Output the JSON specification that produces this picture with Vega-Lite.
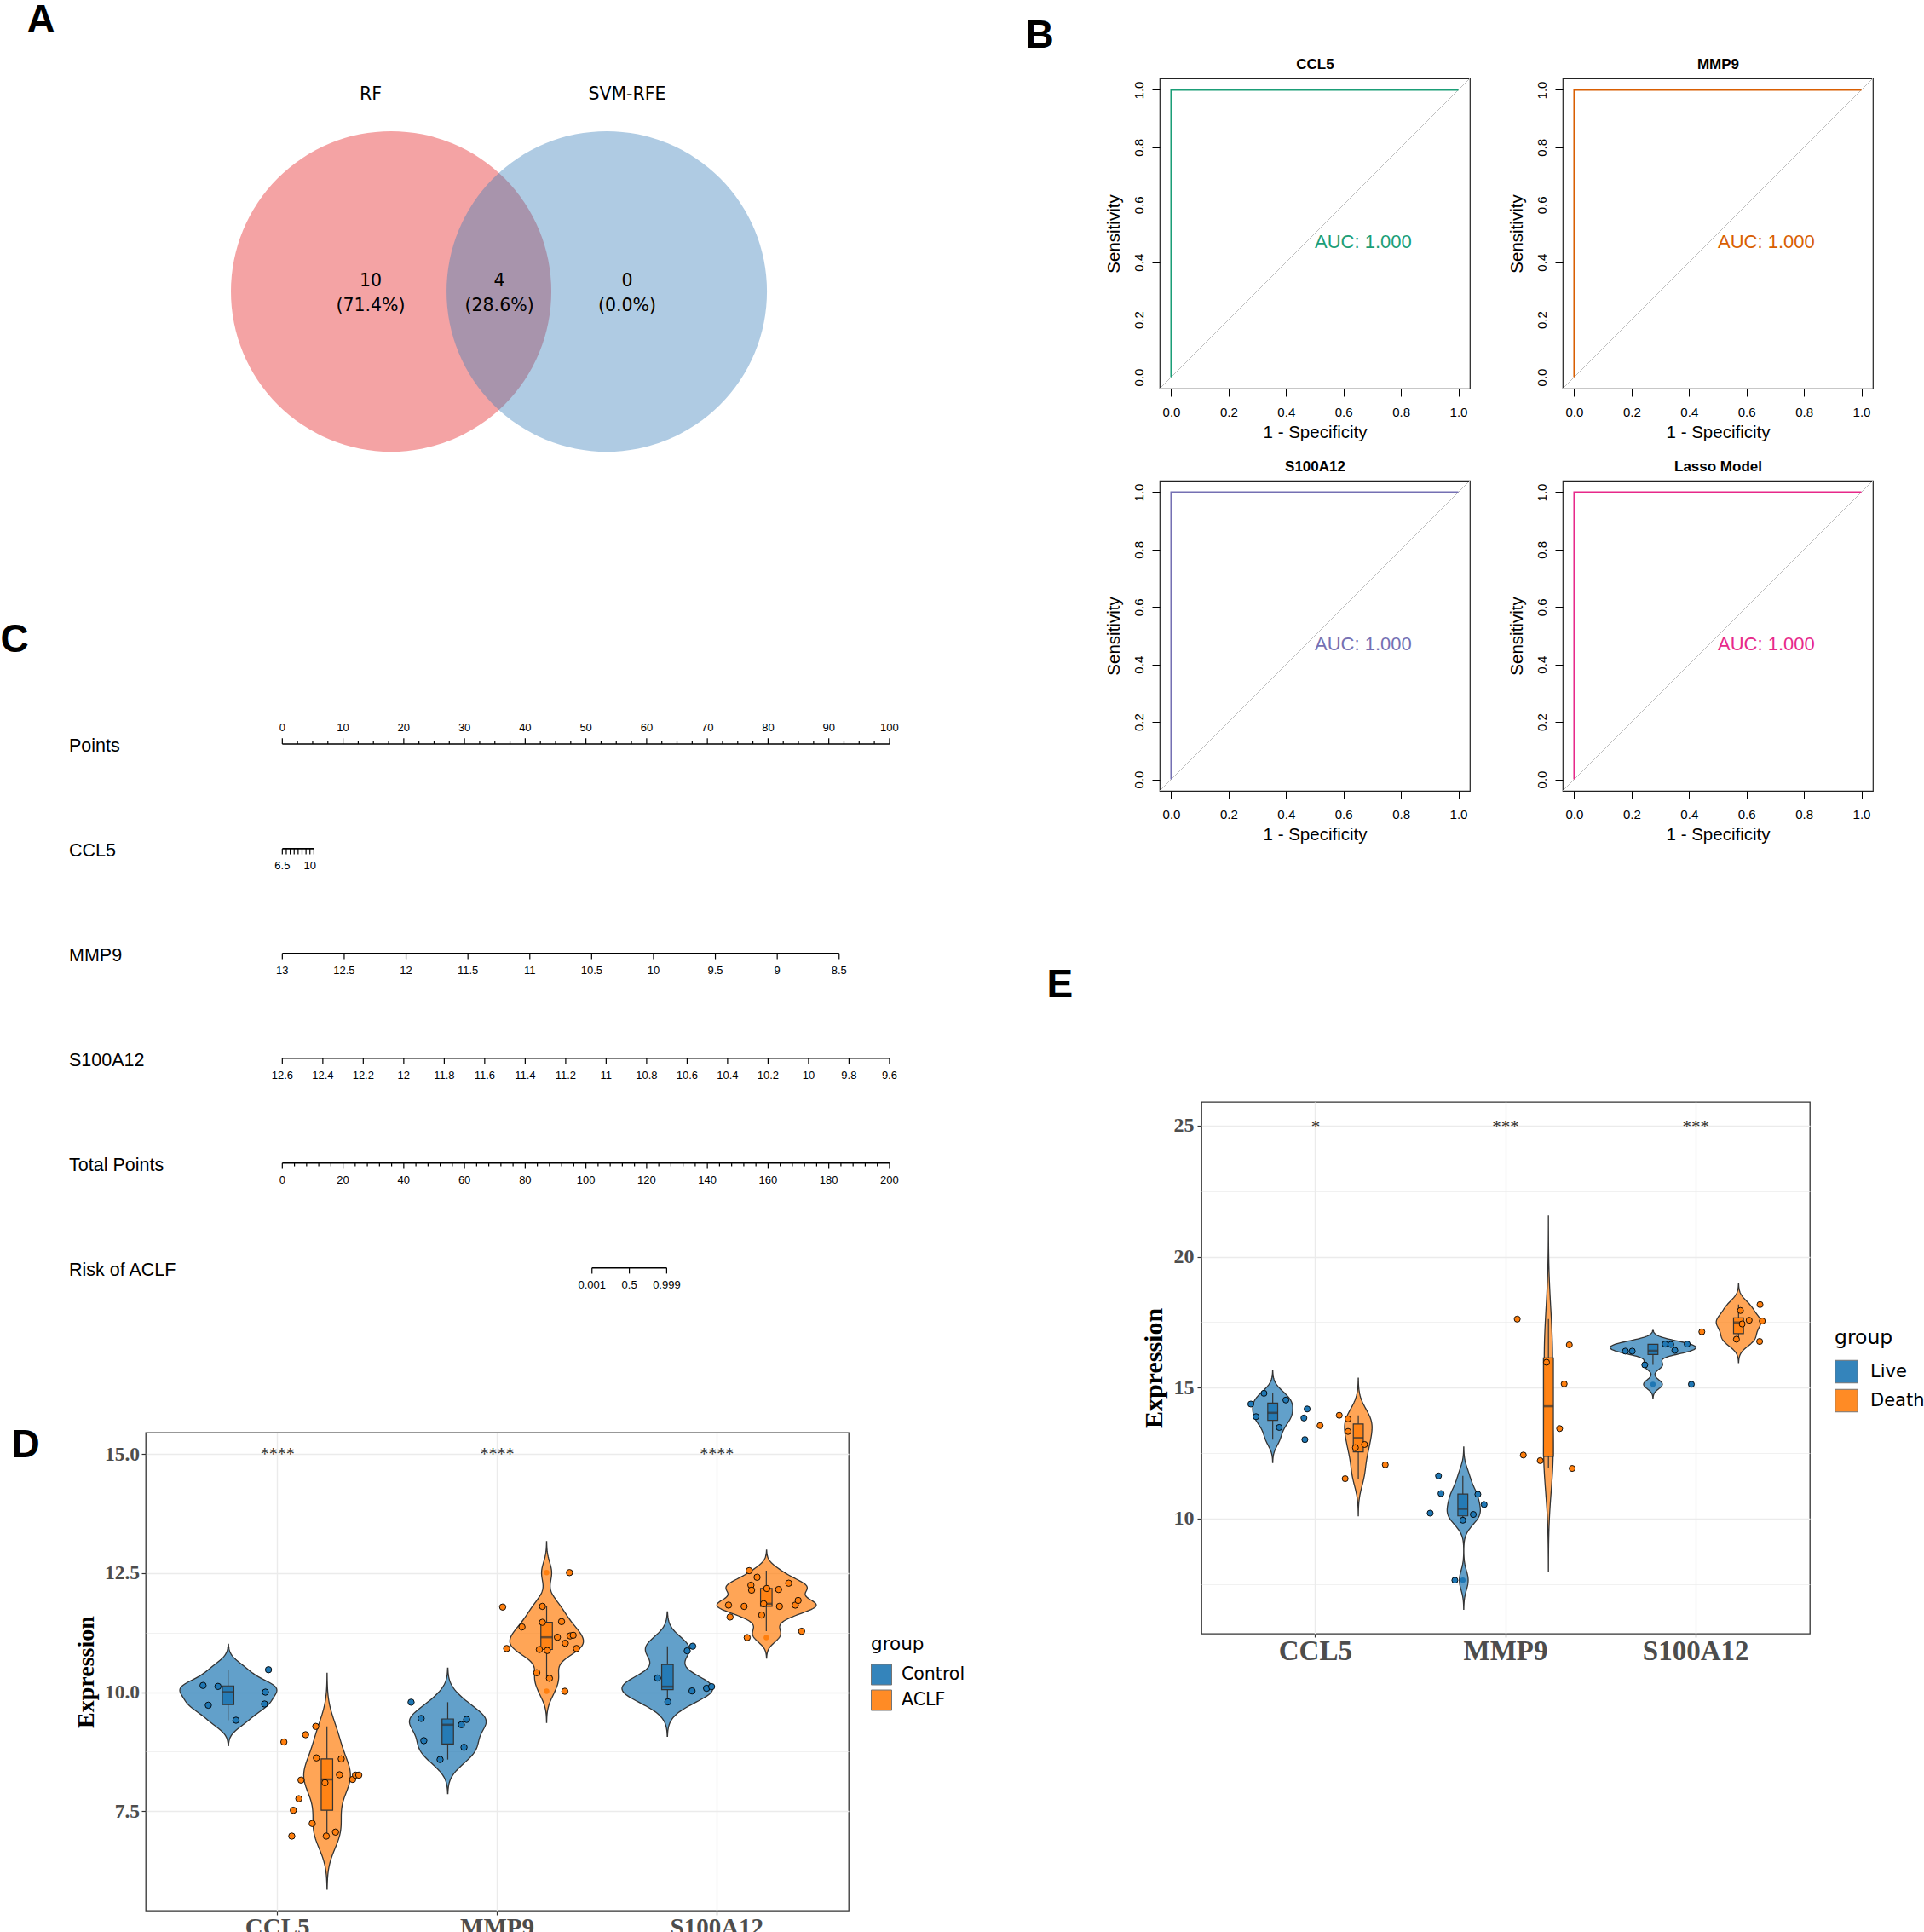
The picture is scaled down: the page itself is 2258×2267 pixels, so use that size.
{
"$schema": "https://vega.github.io/schema/vega-lite/v6.json",
"background": "white",
"padding": 0,
"autosize": {"type": "pad"},
"columns": 3,
"align": "each",
"bounds": "flush",
"spacing": {"row": 10, "column": 109},
"resolve": {"scale": {"color": "independent"}, "legend": {"color": "independent"}},
"config": {"view": {"stroke": null}, "font": "Liberation Sans", "axis": {"labelColor": "#000000", "titleColor": "#000000"}},
"datasets": {
"venn_sets": [
{"set": "RF", "cx": 0, "cy": 0, "lx": -0.128, "ly": 1.198},
{"set": "SVM-RFE", "cx": 1.346, "cy": 0, "lx": 1.473, "ly": 1.198}
],
"venn_regions": [
{"region": "RF only", "x": -0.128, "y": 0, "count": "10", "pct": "(71.4%)"},
{"region": "RF and SVM-RFE", "x": 0.676, "y": 0, "count": "4", "pct": "(28.6%)"},
{"region": "SVM-RFE only", "x": 1.473, "y": 0, "count": "0", "pct": "(0.0%)"}
],
"roc": [
{"model": "CCL5", "fpr": 0, "tpr": 0, "step": 1}, {"model": "CCL5", "fpr": 0, "tpr": 1, "step": 2}, {"model": "CCL5", "fpr": 1, "tpr": 1, "step": 3},
{"model": "MMP9", "fpr": 0, "tpr": 0, "step": 1}, {"model": "MMP9", "fpr": 0, "tpr": 1, "step": 2}, {"model": "MMP9", "fpr": 1, "tpr": 1, "step": 3},
{"model": "S100A12", "fpr": 0, "tpr": 0, "step": 1}, {"model": "S100A12", "fpr": 0, "tpr": 1, "step": 2}, {"model": "S100A12", "fpr": 1, "tpr": 1, "step": 3},
{"model": "Lasso Model", "fpr": 0, "tpr": 0, "step": 1}, {"model": "Lasso Model", "fpr": 0, "tpr": 1, "step": 2}, {"model": "Lasso Model", "fpr": 1, "tpr": 1, "step": 3}
],
"auc": [
{"model": "CCL5", "label": "AUC: 1.000"}, {"model": "MMP9", "label": "AUC: 1.000"}, {"model": "S100A12", "label": "AUC: 1.000"}, {"model": "Lasso Model", "label": "AUC: 1.000"}
],
"nomo_lines": [
{"row": "Points", "from": 0, "to": 100},
{"row": "CCL5", "from": 0, "to": 5.2},
{"row": "MMP9", "from": 0, "to": 91.7},
{"row": "S100A12", "from": 0, "to": 100},
{"row": "Total Points", "from": 0, "to": 100},
{"row": "Risk of ACLF", "from": 51.0, "to": 63.3}
],
"nomo_ticks": [
{"row":"Points","pts":0,"label":"0","kind":"major"},{"row":"Points","pts":10,"label":"10","kind":"major"},{"row":"Points","pts":20,"label":"20","kind":"major"},{"row":"Points","pts":30,"label":"30","kind":"major"},{"row":"Points","pts":40,"label":"40","kind":"major"},{"row":"Points","pts":50,"label":"50","kind":"major"},{"row":"Points","pts":60,"label":"60","kind":"major"},{"row":"Points","pts":70,"label":"70","kind":"major"},{"row":"Points","pts":80,"label":"80","kind":"major"},{"row":"Points","pts":90,"label":"90","kind":"major"},{"row":"Points","pts":100,"label":"100","kind":"major"},
{"row":"Points","pts":2.5,"label":"","kind":"minor"},{"row":"Points","pts":5,"label":"","kind":"minor"},{"row":"Points","pts":7.5,"label":"","kind":"minor"},{"row":"Points","pts":12.5,"label":"","kind":"minor"},{"row":"Points","pts":15,"label":"","kind":"minor"},{"row":"Points","pts":17.5,"label":"","kind":"minor"},{"row":"Points","pts":22.5,"label":"","kind":"minor"},{"row":"Points","pts":25,"label":"","kind":"minor"},{"row":"Points","pts":27.5,"label":"","kind":"minor"},{"row":"Points","pts":32.5,"label":"","kind":"minor"},{"row":"Points","pts":35,"label":"","kind":"minor"},{"row":"Points","pts":37.5,"label":"","kind":"minor"},{"row":"Points","pts":42.5,"label":"","kind":"minor"},{"row":"Points","pts":45,"label":"","kind":"minor"},{"row":"Points","pts":47.5,"label":"","kind":"minor"},{"row":"Points","pts":52.5,"label":"","kind":"minor"},{"row":"Points","pts":55,"label":"","kind":"minor"},{"row":"Points","pts":57.5,"label":"","kind":"minor"},{"row":"Points","pts":62.5,"label":"","kind":"minor"},{"row":"Points","pts":65,"label":"","kind":"minor"},{"row":"Points","pts":67.5,"label":"","kind":"minor"},{"row":"Points","pts":72.5,"label":"","kind":"minor"},{"row":"Points","pts":75,"label":"","kind":"minor"},{"row":"Points","pts":77.5,"label":"","kind":"minor"},{"row":"Points","pts":82.5,"label":"","kind":"minor"},{"row":"Points","pts":85,"label":"","kind":"minor"},{"row":"Points","pts":87.5,"label":"","kind":"minor"},{"row":"Points","pts":92.5,"label":"","kind":"minor"},{"row":"Points","pts":95,"label":"","kind":"minor"},{"row":"Points","pts":97.5,"label":"","kind":"minor"},
{"row":"CCL5","pts":0,"label":"6.5","kind":"major"},{"row":"CCL5","pts":0.65,"label":"","kind":"major"},{"row":"CCL5","pts":1.3,"label":"","kind":"major"},{"row":"CCL5","pts":1.95,"label":"","kind":"major"},{"row":"CCL5","pts":2.6,"label":"","kind":"major"},{"row":"CCL5","pts":3.25,"label":"","kind":"major"},{"row":"CCL5","pts":3.9,"label":"","kind":"major"},{"row":"CCL5","pts":4.55,"label":"10","kind":"major"},{"row":"CCL5","pts":5.2,"label":"","kind":"major"},
{"row":"MMP9","pts":0,"label":"13","kind":"major"},{"row":"MMP9","pts":10.19,"label":"12.5","kind":"major"},{"row":"MMP9","pts":20.38,"label":"12","kind":"major"},{"row":"MMP9","pts":30.57,"label":"11.5","kind":"major"},{"row":"MMP9","pts":40.76,"label":"11","kind":"major"},{"row":"MMP9","pts":50.94,"label":"10.5","kind":"major"},{"row":"MMP9","pts":61.13,"label":"10","kind":"major"},{"row":"MMP9","pts":71.32,"label":"9.5","kind":"major"},{"row":"MMP9","pts":81.51,"label":"9","kind":"major"},{"row":"MMP9","pts":91.7,"label":"8.5","kind":"major"},
{"row":"S100A12","pts":0,"label":"12.6","kind":"major"},{"row":"S100A12","pts":6.67,"label":"12.4","kind":"major"},{"row":"S100A12","pts":13.33,"label":"12.2","kind":"major"},{"row":"S100A12","pts":20,"label":"12","kind":"major"},{"row":"S100A12","pts":26.67,"label":"11.8","kind":"major"},{"row":"S100A12","pts":33.33,"label":"11.6","kind":"major"},{"row":"S100A12","pts":40,"label":"11.4","kind":"major"},{"row":"S100A12","pts":46.67,"label":"11.2","kind":"major"},{"row":"S100A12","pts":53.33,"label":"11","kind":"major"},{"row":"S100A12","pts":60,"label":"10.8","kind":"major"},{"row":"S100A12","pts":66.67,"label":"10.6","kind":"major"},{"row":"S100A12","pts":73.33,"label":"10.4","kind":"major"},{"row":"S100A12","pts":80,"label":"10.2","kind":"major"},{"row":"S100A12","pts":86.67,"label":"10","kind":"major"},{"row":"S100A12","pts":93.33,"label":"9.8","kind":"major"},{"row":"S100A12","pts":100,"label":"9.6","kind":"major"},
{"row":"Total Points","pts":0,"label":"0","kind":"major"},{"row":"Total Points","pts":10,"label":"20","kind":"major"},{"row":"Total Points","pts":20,"label":"40","kind":"major"},{"row":"Total Points","pts":30,"label":"60","kind":"major"},{"row":"Total Points","pts":40,"label":"80","kind":"major"},{"row":"Total Points","pts":50,"label":"100","kind":"major"},{"row":"Total Points","pts":60,"label":"120","kind":"major"},{"row":"Total Points","pts":70,"label":"140","kind":"major"},{"row":"Total Points","pts":80,"label":"160","kind":"major"},{"row":"Total Points","pts":90,"label":"180","kind":"major"},{"row":"Total Points","pts":100,"label":"200","kind":"major"},
{"row":"Total Points","pts":2,"label":"","kind":"minor"},{"row":"Total Points","pts":4,"label":"","kind":"minor"},{"row":"Total Points","pts":6,"label":"","kind":"minor"},{"row":"Total Points","pts":8,"label":"","kind":"minor"},{"row":"Total Points","pts":12,"label":"","kind":"minor"},{"row":"Total Points","pts":14,"label":"","kind":"minor"},{"row":"Total Points","pts":16,"label":"","kind":"minor"},{"row":"Total Points","pts":18,"label":"","kind":"minor"},{"row":"Total Points","pts":22,"label":"","kind":"minor"},{"row":"Total Points","pts":24,"label":"","kind":"minor"},{"row":"Total Points","pts":26,"label":"","kind":"minor"},{"row":"Total Points","pts":28,"label":"","kind":"minor"},{"row":"Total Points","pts":32,"label":"","kind":"minor"},{"row":"Total Points","pts":34,"label":"","kind":"minor"},{"row":"Total Points","pts":36,"label":"","kind":"minor"},{"row":"Total Points","pts":38,"label":"","kind":"minor"},{"row":"Total Points","pts":42,"label":"","kind":"minor"},{"row":"Total Points","pts":44,"label":"","kind":"minor"},{"row":"Total Points","pts":46,"label":"","kind":"minor"},{"row":"Total Points","pts":48,"label":"","kind":"minor"},{"row":"Total Points","pts":52,"label":"","kind":"minor"},{"row":"Total Points","pts":54,"label":"","kind":"minor"},{"row":"Total Points","pts":56,"label":"","kind":"minor"},{"row":"Total Points","pts":58,"label":"","kind":"minor"},{"row":"Total Points","pts":62,"label":"","kind":"minor"},{"row":"Total Points","pts":64,"label":"","kind":"minor"},{"row":"Total Points","pts":66,"label":"","kind":"minor"},{"row":"Total Points","pts":68,"label":"","kind":"minor"},{"row":"Total Points","pts":72,"label":"","kind":"minor"},{"row":"Total Points","pts":74,"label":"","kind":"minor"},{"row":"Total Points","pts":76,"label":"","kind":"minor"},{"row":"Total Points","pts":78,"label":"","kind":"minor"},{"row":"Total Points","pts":82,"label":"","kind":"minor"},{"row":"Total Points","pts":84,"label":"","kind":"minor"},{"row":"Total Points","pts":86,"label":"","kind":"minor"},{"row":"Total Points","pts":88,"label":"","kind":"minor"},{"row":"Total Points","pts":92,"label":"","kind":"minor"},{"row":"Total Points","pts":94,"label":"","kind":"minor"},{"row":"Total Points","pts":96,"label":"","kind":"minor"},{"row":"Total Points","pts":98,"label":"","kind":"minor"},
{"row":"Risk of ACLF","pts":51.0,"label":"0.001","kind":"major"},{"row":"Risk of ACLF","pts":57.15,"label":"0.5","kind":"major"},{"row":"Risk of ACLF","pts":63.3,"label":"0.999","kind":"major"}
],
"expr_D": [
{"gene":"CCL5","group":"Control","value":10.14,"jitter":-0.114},{"gene":"CCL5","group":"Control","value":10.12,"jitter":-0.046},{"gene":"CCL5","group":"Control","value":9.725,"jitter":-0.09},{"gene":"CCL5","group":"Control","value":9.41,"jitter":0.036},{"gene":"CCL5","group":"Control","value":10.47,"jitter":0.184},{"gene":"CCL5","group":"Control","value":10.0,"jitter":0.17},{"gene":"CCL5","group":"Control","value":9.75,"jitter":0.166},
{"gene":"CCL5","group":"ACLF","value":8.953,"jitter":-0.196},{"gene":"CCL5","group":"ACLF","value":9.106,"jitter":-0.097},{"gene":"CCL5","group":"ACLF","value":9.28,"jitter":-0.051},{"gene":"CCL5","group":"ACLF","value":8.619,"jitter":-0.048},{"gene":"CCL5","group":"ACLF","value":8.598,"jitter":0.065},{"gene":"CCL5","group":"ACLF","value":8.152,"jitter":-0.118},{"gene":"CCL5","group":"ACLF","value":8.097,"jitter":-0.009},{"gene":"CCL5","group":"ACLF","value":8.264,"jitter":0.057},{"gene":"CCL5","group":"ACLF","value":8.166,"jitter":0.117},{"gene":"CCL5","group":"ACLF","value":8.257,"jitter":0.13},{"gene":"CCL5","group":"ACLF","value":8.257,"jitter":0.145},{"gene":"CCL5","group":"ACLF","value":7.762,"jitter":-0.128},{"gene":"CCL5","group":"ACLF","value":7.519,"jitter":-0.153},{"gene":"CCL5","group":"ACLF","value":7.24,"jitter":-0.067},{"gene":"CCL5","group":"ACLF","value":6.976,"jitter":-0.16},{"gene":"CCL5","group":"ACLF","value":6.976,"jitter":-0.003},{"gene":"CCL5","group":"ACLF","value":7.06,"jitter":0.039},
{"gene":"MMP9","group":"Control","value":9.788,"jitter":-0.167},{"gene":"MMP9","group":"Control","value":9.447,"jitter":-0.121},{"gene":"MMP9","group":"Control","value":8.981,"jitter":-0.109},{"gene":"MMP9","group":"Control","value":8.584,"jitter":-0.035},{"gene":"MMP9","group":"Control","value":9.315,"jitter":0.062},{"gene":"MMP9","group":"Control","value":9.426,"jitter":0.086},{"gene":"MMP9","group":"Control","value":8.841,"jitter":0.074},
{"gene":"MMP9","group":"ACLF","value":11.786,"jitter":-0.2},{"gene":"MMP9","group":"ACLF","value":11.368,"jitter":-0.112},{"gene":"MMP9","group":"ACLF","value":10.916,"jitter":-0.182},{"gene":"MMP9","group":"ACLF","value":11.8,"jitter":-0.019},{"gene":"MMP9","group":"ACLF","value":11.466,"jitter":-0.019},{"gene":"MMP9","group":"ACLF","value":11.48,"jitter":0.068},{"gene":"MMP9","group":"ACLF","value":11.152,"jitter":0.049},{"gene":"MMP9","group":"ACLF","value":11.027,"jitter":0.085},{"gene":"MMP9","group":"ACLF","value":11.18,"jitter":0.107},{"gene":"MMP9","group":"ACLF","value":11.194,"jitter":0.121},{"gene":"MMP9","group":"ACLF","value":10.916,"jitter":0.136},{"gene":"MMP9","group":"ACLF","value":10.895,"jitter":-0.033},{"gene":"MMP9","group":"ACLF","value":10.874,"jitter":0.003},{"gene":"MMP9","group":"ACLF","value":10.407,"jitter":-0.045},{"gene":"MMP9","group":"ACLF","value":10.289,"jitter":0.013},{"gene":"MMP9","group":"ACLF","value":10.018,"jitter":0.083},{"gene":"MMP9","group":"ACLF","value":12.51,"jitter":0.104},
{"gene":"S100A12","group":"Control","value":10.964,"jitter":0.115},{"gene":"S100A12","group":"Control","value":10.867,"jitter":0.09},{"gene":"S100A12","group":"Control","value":10.296,"jitter":-0.045},{"gene":"S100A12","group":"Control","value":9.795,"jitter":0.002},{"gene":"S100A12","group":"Control","value":10.025,"jitter":0.112},{"gene":"S100A12","group":"Control","value":10.08,"jitter":0.178},{"gene":"S100A12","group":"Control","value":10.115,"jitter":0.201},
{"gene":"S100A12","group":"ACLF","value":12.551,"jitter":-0.078},{"gene":"S100A12","group":"ACLF","value":12.412,"jitter":-0.042},{"gene":"S100A12","group":"ACLF","value":12.245,"jitter":-0.07},{"gene":"S100A12","group":"ACLF","value":12.141,"jitter":-0.067},{"gene":"S100A12","group":"ACLF","value":12.176,"jitter":0.002},{"gene":"S100A12","group":"ACLF","value":12.155,"jitter":0.056},{"gene":"S100A12","group":"ACLF","value":12.287,"jitter":0.102},{"gene":"S100A12","group":"ACLF","value":11.827,"jitter":-0.172},{"gene":"S100A12","group":"ACLF","value":11.8,"jitter":-0.101},{"gene":"S100A12","group":"ACLF","value":11.855,"jitter":-0.012},{"gene":"S100A12","group":"ACLF","value":11.8,"jitter":0.06},{"gene":"S100A12","group":"ACLF","value":11.827,"jitter":0.132},{"gene":"S100A12","group":"ACLF","value":11.925,"jitter":0.145},{"gene":"S100A12","group":"ACLF","value":11.577,"jitter":-0.165},{"gene":"S100A12","group":"ACLF","value":11.619,"jitter":-0.021},{"gene":"S100A12","group":"ACLF","value":11.145,"jitter":-0.087},{"gene":"S100A12","group":"ACLF","value":11.278,"jitter":0.161}
],
"sig_D": [{"gene":"CCL5","sig":"****","level":15},{"gene":"MMP9","sig":"****","level":15},{"gene":"S100A12","sig":"****","level":15}],
"expr_E": [
{"gene":"CCL5","group":"Live","value":14.376,"jitter":-0.115},{"gene":"CCL5","group":"Live","value":13.895,"jitter":-0.088},{"gene":"CCL5","group":"Live","value":14.787,"jitter":-0.046},{"gene":"CCL5","group":"Live","value":13.483,"jitter":0.034},{"gene":"CCL5","group":"Live","value":14.53,"jitter":0.069},{"gene":"CCL5","group":"Live","value":13.844,"jitter":0.164},{"gene":"CCL5","group":"Live","value":14.187,"jitter":0.181},{"gene":"CCL5","group":"Live","value":13.02,"jitter":0.169},
{"gene":"CCL5","group":"Death","value":13.552,"jitter":-0.201},{"gene":"CCL5","group":"Death","value":13.947,"jitter":-0.1},{"gene":"CCL5","group":"Death","value":13.81,"jitter":-0.054},{"gene":"CCL5","group":"Death","value":13.329,"jitter":-0.054},{"gene":"CCL5","group":"Death","value":12.711,"jitter":-0.015},{"gene":"CCL5","group":"Death","value":12.831,"jitter":0.033},{"gene":"CCL5","group":"Death","value":11.527,"jitter":-0.069},{"gene":"CCL5","group":"Death","value":12.058,"jitter":0.142},
{"gene":"MMP9","group":"Live","value":11.633,"jitter":-0.128},{"gene":"MMP9","group":"Live","value":10.96,"jitter":-0.115},{"gene":"MMP9","group":"Live","value":10.21,"jitter":-0.172},{"gene":"MMP9","group":"Live","value":9.94,"jitter":0.0},{"gene":"MMP9","group":"Live","value":10.16,"jitter":0.055},{"gene":"MMP9","group":"Live","value":10.93,"jitter":0.079},{"gene":"MMP9","group":"Live","value":10.54,"jitter":0.112},{"gene":"MMP9","group":"Live","value":7.648,"jitter":-0.042},
{"gene":"MMP9","group":"Death","value":17.619,"jitter":-0.164},{"gene":"MMP9","group":"Death","value":16.638,"jitter":0.11},{"gene":"MMP9","group":"Death","value":15.97,"jitter":-0.01},{"gene":"MMP9","group":"Death","value":15.145,"jitter":0.083},{"gene":"MMP9","group":"Death","value":13.439,"jitter":0.059},{"gene":"MMP9","group":"Death","value":12.429,"jitter":-0.132},{"gene":"MMP9","group":"Death","value":12.216,"jitter":-0.043},{"gene":"MMP9","group":"Death","value":11.917,"jitter":0.125},
{"gene":"S100A12","group":"Live","value":16.396,"jitter":-0.145},{"gene":"S100A12","group":"Live","value":16.396,"jitter":-0.109},{"gene":"S100A12","group":"Live","value":15.87,"jitter":-0.043},{"gene":"S100A12","group":"Live","value":16.666,"jitter":0.064},{"gene":"S100A12","group":"Live","value":16.652,"jitter":0.094},{"gene":"S100A12","group":"Live","value":16.425,"jitter":0.115},{"gene":"S100A12","group":"Live","value":16.666,"jitter":0.18},{"gene":"S100A12","group":"Live","value":15.131,"jitter":0.202},
{"gene":"S100A12","group":"Death","value":17.135,"jitter":-0.193},{"gene":"S100A12","group":"Death","value":17.946,"jitter":0.01},{"gene":"S100A12","group":"Death","value":18.173,"jitter":0.113},{"gene":"S100A12","group":"Death","value":17.576,"jitter":0.056},{"gene":"S100A12","group":"Death","value":17.434,"jitter":0.019},{"gene":"S100A12","group":"Death","value":17.548,"jitter":0.125},{"gene":"S100A12","group":"Death","value":16.851,"jitter":-0.011},{"gene":"S100A12","group":"Death","value":16.766,"jitter":0.111}
],
"sig_E": [{"gene":"CCL5","sig":"*","level":25},{"gene":"MMP9","sig":"***","level":25},{"gene":"S100A12","sig":"***","level":25}]
},
"concat": [
{
"width": 1081, "height": 364,
"layer": [
{"data": {"name": "venn_sets"}, "mark": {"type": "circle", "size": 141376, "opacity": 0.4},
 "encoding": {"x": {"field": "cx", "type": "quantitative", "scale": {"domain": [-1.532, 4.218], "nice": false, "zero": false}, "axis": null},
  "y": {"field": "cy", "type": "quantitative", "scale": {"domain": [-0.6064, 1.3298], "nice": false, "zero": false}, "axis": {"title": "A", "labels": false, "ticks": false, "domain": false, "grid": false, "titleX": -140, "titleY": -55, "titleAngle": 0, "titleAlign": "left", "titleBaseline": "alphabetic", "titleFont": "Liberation Sans", "titleFontSize": 46, "titleFontWeight": "bold", "titleColor": "#000000"}},
  "color": {"field": "set", "type": "nominal", "scale": {"domain": ["RF", "SVM-RFE"], "range": ["#E41A1C", "#377EB8"]}, "legend": null}}},
{"data": {"name": "venn_sets"}, "mark": {"type": "text", "font": "DejaVu Sans", "fontSize": 20.5, "baseline": "alphabetic", "align": "center", "color": "#000000"},
 "encoding": {"x": {"field": "lx", "type": "quantitative", "scale": {"domain": [-1.532, 4.218], "nice": false, "zero": false}, "axis": null},
  "y": {"field": "ly", "type": "quantitative", "scale": {"domain": [-0.6064, 1.3298], "nice": false, "zero": false}},
  "text": {"field": "set", "type": "nominal"}}},
{"data": {"name": "venn_regions"}, "mark": {"type": "text", "font": "DejaVu Sans", "fontSize": 20.5, "baseline": "alphabetic", "align": "center", "dy": -6, "color": "#000000"},
 "encoding": {"x": {"field": "x", "type": "quantitative", "scale": {"domain": [-1.532, 4.218], "nice": false, "zero": false}, "axis": null},
  "y": {"field": "y", "type": "quantitative", "scale": {"domain": [-0.6064, 1.3298], "nice": false, "zero": false}},
  "text": {"field": "count", "type": "nominal"}}},
{"data": {"name": "venn_regions"}, "mark": {"type": "text", "font": "DejaVu Sans", "fontSize": 20.5, "baseline": "alphabetic", "align": "center", "dy": 23, "color": "#000000"},
 "encoding": {"x": {"field": "x", "type": "quantitative", "scale": {"domain": [-1.532, 4.218], "nice": false, "zero": false}, "axis": null},
  "y": {"field": "y", "type": "quantitative", "scale": {"domain": [-0.6064, 1.3298], "nice": false, "zero": false}},
  "text": {"field": "pct", "type": "nominal"}}}
]
},
{
"width": 364, "height": 364,
"view": {"stroke": "#222222", "strokeWidth": 1.2},
"layer": [
{"data": {"values": [{"line": "chance"}]}, "mark": {"type": "rule", "color": "#BEBEBE", "strokeWidth": 1},
 "encoding": {"x": {"datum": -0.04, "type": "quantitative", "scale": {"domain": [-0.04, 1.04], "nice": false, "zero": false}},
  "y": {"datum": -0.04, "type": "quantitative", "scale": {"domain": [-0.04, 1.04], "nice": false, "zero": false}, "axis": {"title": "B", "orient": "left", "labels": false, "ticks": false, "domain": false, "grid": false, "titleX": -158, "titleY": -37, "titleAngle": 0, "titleAlign": "left", "titleBaseline": "alphabetic", "titleFont": "Liberation Sans", "titleFontSize": 46, "titleFontWeight": "bold", "titleColor": "#000000"}},
  "x2": {"datum": 1.04}, "y2": {"datum": 1.04}}},
{"data": {"name": "roc"}, "transform": [{"filter": {"field": "model", "equal": "CCL5"}}],
 "mark": {"type": "line", "color": "#1B9E77", "strokeWidth": 2},
 "encoding": {
  "x": {"field": "fpr", "type": "quantitative", "scale": {"domain": [-0.04, 1.04], "nice": false, "zero": false}, "axis": {"values": [0, 0.2, 0.4, 0.6, 0.8, 1], "format": ".1f", "title": "1 - Specificity", "domain": false, "grid": false, "tickSize": 9, "tickColor": "#000000", "tickWidth": 1, "labelPadding": 11, "labelFont": "Liberation Sans", "labelFontSize": 15, "labelColor": "#000000", "labelFlush": false, "labelOverlap": false, "titleFont": "Liberation Sans", "titleFontSize": 20.5, "titleFontWeight": "normal", "titleColor": "#000000", "titlePadding": 6}},
  "y": {"field": "tpr", "type": "quantitative", "scale": {"domain": [-0.04, 1.04], "nice": false, "zero": false}, "axis": {"orient": "left", "values": [0, 0.2, 0.4, 0.6, 0.8, 1], "format": ".1f", "title": "Sensitivity", "domain": false, "grid": false, "tickSize": 9, "tickColor": "#000000", "tickWidth": 1, "labelAngle": -90, "labelAlign": "center", "labelBaseline": "bottom", "labelPadding": 8, "labelFont": "Liberation Sans", "labelFontSize": 15, "labelColor": "#000000", "labelFlush": false, "labelOverlap": false, "titleFont": "Liberation Sans", "titleFontSize": 20.5, "titleFontWeight": "normal", "titleColor": "#000000", "titlePadding": 12}},
  "order": {"field": "step", "type": "quantitative"}}},
{"data": {"name": "auc"}, "transform": [{"filter": {"field": "model", "equal": "CCL5"}}],
 "mark": {"type": "text", "align": "left", "baseline": "top", "font": "Liberation Sans", "fontSize": 22, "color": "#1B9E77"},
 "encoding": {"x": {"datum": 0.5, "type": "quantitative"},
  "y": {"datum": 0.5, "type": "quantitative", "axis": {"title": "CCL5", "orient": "left", "labels": false, "ticks": false, "domain": false, "grid": false, "titleX": 182, "titleY": -12, "titleAngle": 0, "titleAlign": "center", "titleBaseline": "alphabetic", "titleFont": "Liberation Sans", "titleFontSize": 17, "titleFontWeight": "bold", "titleColor": "#000000"}},
  "text": {"field": "label", "type": "nominal"}}}
],
"resolve": {"axis": {"y": "independent"}}
},
{
"width": 364, "height": 364,
"view": {"stroke": "#222222", "strokeWidth": 1.2},
"layer": [
{"data": {"values": [{"line": "chance"}]}, "mark": {"type": "rule", "color": "#BEBEBE", "strokeWidth": 1},
 "encoding": {"x": {"datum": -0.04, "type": "quantitative", "scale": {"domain": [-0.04, 1.04], "nice": false, "zero": false}},
  "y": {"datum": -0.04, "type": "quantitative", "scale": {"domain": [-0.04, 1.04], "nice": false, "zero": false}, "axis": null},
  "x2": {"datum": 1.04}, "y2": {"datum": 1.04}}},
{"data": {"name": "roc"}, "transform": [{"filter": {"field": "model", "equal": "MMP9"}}],
 "mark": {"type": "line", "color": "#D95F02", "strokeWidth": 2},
 "encoding": {
  "x": {"field": "fpr", "type": "quantitative", "scale": {"domain": [-0.04, 1.04], "nice": false, "zero": false}, "axis": {"values": [0, 0.2, 0.4, 0.6, 0.8, 1], "format": ".1f", "title": "1 - Specificity", "domain": false, "grid": false, "tickSize": 9, "tickColor": "#000000", "tickWidth": 1, "labelPadding": 11, "labelFont": "Liberation Sans", "labelFontSize": 15, "labelColor": "#000000", "labelFlush": false, "labelOverlap": false, "titleFont": "Liberation Sans", "titleFontSize": 20.5, "titleFontWeight": "normal", "titleColor": "#000000", "titlePadding": 6}},
  "y": {"field": "tpr", "type": "quantitative", "scale": {"domain": [-0.04, 1.04], "nice": false, "zero": false}, "axis": {"orient": "left", "values": [0, 0.2, 0.4, 0.6, 0.8, 1], "format": ".1f", "title": "Sensitivity", "domain": false, "grid": false, "tickSize": 9, "tickColor": "#000000", "tickWidth": 1, "labelAngle": -90, "labelAlign": "center", "labelBaseline": "bottom", "labelPadding": 8, "labelFont": "Liberation Sans", "labelFontSize": 15, "labelColor": "#000000", "labelFlush": false, "labelOverlap": false, "titleFont": "Liberation Sans", "titleFontSize": 20.5, "titleFontWeight": "normal", "titleColor": "#000000", "titlePadding": 12}},
  "order": {"field": "step", "type": "quantitative"}}},
{"data": {"name": "auc"}, "transform": [{"filter": {"field": "model", "equal": "MMP9"}}],
 "mark": {"type": "text", "align": "left", "baseline": "top", "font": "Liberation Sans", "fontSize": 22, "color": "#D95F02"},
 "encoding": {"x": {"datum": 0.5, "type": "quantitative"},
  "y": {"datum": 0.5, "type": "quantitative", "axis": {"title": "MMP9", "orient": "left", "labels": false, "ticks": false, "domain": false, "grid": false, "titleX": 182, "titleY": -12, "titleAngle": 0, "titleAlign": "center", "titleBaseline": "alphabetic", "titleFont": "Liberation Sans", "titleFontSize": 17, "titleFontWeight": "bold", "titleColor": "#000000"}},
  "text": {"field": "label", "type": "nominal"}}}
],
"resolve": {"axis": {"y": "independent"}}
},
{
"columns": 1,
"align": "each",
"bounds": "flush",
"spacing": {"row": 10, "column": 10},
"concat": [
{"width": 1, "height": 273.65, "data": {"values": []}, "mark": "point", "encoding": {}},
{
"width": 1081, "height": 860.65,
"encoding": {"y": {"field": "row", "type": "nominal", "scale": {"type": "point", "domain": ["Points", "CCL5", "MMP9", "S100A12", "Total Points", "Risk of ACLF"], "padding": 1, "round": false}, "axis": {"title": "C", "titleX": -171, "titleY": 14.35, "titleAngle": 0, "titleAlign": "left", "titleBaseline": "alphabetic", "titleFont": "Liberation Sans", "titleFontSize": 46, "titleFontWeight": "bold", "titleColor": "#000000", "domain": false, "ticks": false, "tickSize": 0, "grid": false, "labelAlign": "left", "labelBaseline": "alphabetic", "labelOffset": 8.5, "labelPadding": 90.5, "labelFont": "Liberation Sans", "labelFontSize": 21.5, "labelColor": "#000000", "labelLimit": 0, "labelOverlap": false}}},
"layer": [
{"data": {"name": "nomo_lines"}, "mark": {"type": "rule", "color": "#000000", "strokeWidth": 1.6},
 "encoding": {"x": {"field": "from", "type": "quantitative", "scale": {"domain": [-22.5, 129.2], "nice": false, "zero": false}, "axis": null}, "x2": {"field": "to"}}},
{"data": {"name": "nomo_ticks"}, "transform": [{"filter": "datum.row === 'Points' && datum.kind === 'major'"}],
 "mark": {"type": "rule", "color": "#000000", "strokeWidth": 1.2, "y2Offset": -6.7},
 "encoding": {"x": {"field": "pts", "type": "quantitative", "scale": {"domain": [-22.5, 129.2], "nice": false, "zero": false}, "axis": null}, "y2": {"field": "row"}}},
{"data": {"name": "nomo_ticks"}, "transform": [{"filter": "datum.row === 'Points' && datum.kind === 'minor'"}],
 "mark": {"type": "rule", "color": "#000000", "strokeWidth": 1.2, "y2Offset": -3.7},
 "encoding": {"x": {"field": "pts", "type": "quantitative", "scale": {"domain": [-22.5, 129.2], "nice": false, "zero": false}, "axis": null}, "y2": {"field": "row"}}},
{"data": {"name": "nomo_ticks"}, "transform": [{"filter": "datum.row !== 'Points' && datum.kind === 'major'"}],
 "mark": {"type": "rule", "color": "#000000", "strokeWidth": 1.2, "y2Offset": 6.7},
 "encoding": {"x": {"field": "pts", "type": "quantitative", "scale": {"domain": [-22.5, 129.2], "nice": false, "zero": false}, "axis": null}, "y2": {"field": "row"}}},
{"data": {"name": "nomo_ticks"}, "transform": [{"filter": "datum.row !== 'Points' && datum.kind === 'minor'"}],
 "mark": {"type": "rule", "color": "#000000", "strokeWidth": 1.2, "y2Offset": 3.8},
 "encoding": {"x": {"field": "pts", "type": "quantitative", "scale": {"domain": [-22.5, 129.2], "nice": false, "zero": false}, "axis": null}, "y2": {"field": "row"}}},
{"data": {"name": "nomo_ticks"}, "transform": [{"filter": "datum.row === 'Points' && datum.label !== ''"}],
 "mark": {"type": "text", "font": "Liberation Sans", "fontSize": 13, "baseline": "alphabetic", "align": "center", "dy": -15.3, "color": "#000000"},
 "encoding": {"x": {"field": "pts", "type": "quantitative", "scale": {"domain": [-22.5, 129.2], "nice": false, "zero": false}, "axis": null}, "text": {"field": "label", "type": "nominal"}}},
{"data": {"name": "nomo_ticks"}, "transform": [{"filter": "datum.row !== 'Points' && datum.label !== ''"}],
 "mark": {"type": "text", "font": "Liberation Sans", "fontSize": 13, "baseline": "alphabetic", "align": "center", "dy": 24.5, "color": "#000000"},
 "encoding": {"x": {"field": "pts", "type": "quantitative", "scale": {"domain": [-22.5, 129.2], "nice": false, "zero": false}, "axis": null}, "text": {"field": "label", "type": "nominal"}}}
]
}
]
},
{
"columns": 2,
"align": "each",
"bounds": "flush",
"spacing": {"row": 10, "column": 10},
"concat": [
{"width": 39, "height": 817, "data": {"values": []}, "mark": "point", "encoding": {}},
{"width": 1, "height": 1, "data": {"values": []}, "mark": "point", "encoding": {}},
{"width": 1, "height": 1, "data": {"values": []}, "mark": "point", "encoding": {}},
{
"width": 714, "height": 624,
"view": {"stroke": "#333333", "strokeWidth": 1.3},
"data": {"name": "expr_E"},
"encoding": {
 "y": {"field": "value", "type": "quantitative", "scale": {"domain": [5.607, 25.911], "nice": false, "zero": false},
  "axis": {"title": "Expression", "values": [7.5, 10, 12.5, 15, 17.5, 20, 22.5, 25], "labelExpr": "datum.value % 5 === 0 ? format(datum.value, 'd') : ''", "tickOpacity": {"condition": {"test": "datum.value % 5 === 0", "value": 1}, "value": 0}, "gridWidth": {"condition": {"test": "datum.value % 5 === 0", "value": 1.4}, "value": 0.7}, "grid": true, "gridColor": "#EBEBEB", "domain": false, "tickSize": 5, "tickColor": "#333333", "tickWidth": 1.2, "labelPadding": 4, "labelFont": "Liberation Serif", "labelFontWeight": "bold", "labelFontSize": 24, "labelColor": "#4D4D4D", "labelFlush": false, "labelOverlap": false, "titleFont": "Liberation Serif", "titleFontWeight": "bold", "titleFontSize": 30, "titleColor": "#000000", "titlePadding": 8}},
 "color": {"field": "group", "type": "nominal", "scale": {"domain": ["Live", "Death"], "range": ["#1F77B4", "#FF7F0E"]},
  "legend": {"title": "group", "orient": "none", "legendX": 792, "legendY": 1092, "symbolType": "square", "symbolSize": 702, "symbolStrokeColor": "#666666", "symbolStrokeWidth": 1, "symbolOpacity": 0.9, "labelFont": "DejaVu Sans", "labelFontSize": 21, "labelColor": "#000000", "titleFont": "DejaVu Sans", "titleFontSize": 23.5, "titleFontWeight": "normal", "titleColor": "#000000", "labelOffset": 14, "rowPadding": 2, "titlePadding": 14}}
},
"layer": [
{"transform": [{"filter": {"and": [{"field": "gene", "equal": "CCL5"}, {"field": "group", "equal": "Live"}]}}, {"density": "value", "groupby": ["group"], "bandwidth": 0.2927, "extent": [12.142, 15.665], "steps": 120}],
 "mark": {"type": "area", "orient": "horizontal", "fillOpacity": 0.7, "stroke": "#333333", "strokeWidth": 1.3},
 "encoding": {"x": {"field": "density", "type": "quantitative", "stack": "center", "impute": null, "scale": {"domain": [-0.7862, 8.547], "nice": false, "zero": false},
  "axis": {"orient": "top", "title": "E", "labels": false, "ticks": false, "domain": false, "grid": false, "titleX": -182, "titleY": -124, "titleAngle": 0, "titleAlign": "left", "titleBaseline": "alphabetic", "titleFont": "Liberation Sans", "titleFontSize": 46, "titleFontWeight": "bold", "titleColor": "#000000"}}}},
{"transform": [{"filter": {"and": [{"field": "gene", "equal": "CCL5"}, {"field": "group", "equal": "Death"}]}}, {"density": "value", "groupby": ["group"], "bandwidth": 0.4733, "extent": [10.107, 15.367], "steps": 120}],
 "mark": {"type": "area", "orient": "horizontal", "fillOpacity": 0.7, "stroke": "#333333", "strokeWidth": 1.3},
 "encoding": {"x": {"field": "density", "type": "quantitative", "stack": "center", "impute": null, "scale": {"domain": [-2.1953, 7.1381], "nice": false, "zero": false}, "axis": null}}},
{"transform": [{"filter": {"and": [{"field": "gene", "equal": "MMP9"}, {"field": "group", "equal": "Live"}]}}, {"density": "value", "groupby": ["group"], "bandwidth": 0.3689, "extent": [6.541, 12.74], "steps": 120}],
 "mark": {"type": "area", "orient": "horizontal", "fillOpacity": 0.7, "stroke": "#333333", "strokeWidth": 1.3},
 "encoding": {"x": {"field": "density", "type": "quantitative", "stack": "center", "impute": null, "scale": {"domain": [-3.7695, 5.5639], "nice": false, "zero": false}, "axis": null}}},
{"transform": [{"filter": {"and": [{"field": "gene", "equal": "MMP9"}, {"field": "group", "equal": "Death"}]}}, {"density": "value", "groupby": ["group"], "bandwidth": 1.3112, "extent": [7.983, 21.553], "steps": 120}],
 "mark": {"type": "area", "orient": "horizontal", "fillOpacity": 0.7, "stroke": "#333333", "strokeWidth": 1.3},
 "encoding": {"x": {"field": "density", "type": "quantitative", "stack": "center", "impute": null, "scale": {"domain": [-5.2499, 4.0835], "nice": false, "zero": false}, "axis": null}}},
{"transform": [{"filter": {"and": [{"field": "gene", "equal": "S100A12"}, {"field": "group", "equal": "Live"}]}}, {"density": "value", "groupby": ["group"], "bandwidth": 0.1733, "extent": [14.611, 17.186], "steps": 120}],
 "mark": {"type": "area", "orient": "horizontal", "fillOpacity": 0.7, "stroke": "#333333", "strokeWidth": 1.3},
 "encoding": {"x": {"field": "density", "type": "quantitative", "stack": "center", "impute": null, "scale": {"domain": [-6.2706, 3.0628], "nice": false, "zero": false}, "axis": null}}},
{"transform": [{"filter": {"and": [{"field": "gene", "equal": "S100A12"}, {"field": "group", "equal": "Death"}]}}, {"density": "value", "groupby": ["group"], "bandwidth": 0.2679, "extent": [15.962, 18.977], "steps": 120}],
 "mark": {"type": "area", "orient": "horizontal", "fillOpacity": 0.7, "stroke": "#333333", "strokeWidth": 1.3},
 "encoding": {"x": {"field": "density", "type": "quantitative", "stack": "center", "impute": null, "scale": {"domain": [-7.8976, 1.4357], "nice": false, "zero": false}, "axis": null}}},
{"mark": {"type": "boxplot", "extent": 1.5, "size": 11.7, "ticks": false, "box": {"stroke": "#333333", "strokeWidth": 1.2, "fillOpacity": 0.9}, "median": {"color": "#333333", "thickness": 2.5}, "rule": {"color": "#333333", "strokeWidth": 1.2}, "outliers": {"color": "#595959", "size": 40, "filled": true, "opacity": 1}},
 "encoding": {"x": {"field": "gene", "type": "nominal", "scale": {"domain": ["CCL5", "MMP9", "S100A12"], "paddingInner": 0, "paddingOuter": 0.1, "round": false}, "axis": null},
  "xOffset": {"field": "group", "type": "nominal", "scale": {"domain": ["Live", "Death"], "paddingInner": 0, "paddingOuter": 0.111}}}},
{"transform": [{"filter": {"field": "group", "equal": "Live"}}],
 "mark": {"type": "point", "shape": "circle", "filled": true, "size": 50, "stroke": "#000000", "strokeWidth": 0.9, "opacity": 1},
 "encoding": {"x": {"field": "gene", "type": "nominal", "scale": {"domain": ["CCL5", "MMP9", "S100A12"], "paddingInner": 0, "paddingOuter": 0.1, "round": false},
   "axis": {"title": null, "labelAngle": 0, "labelFont": "Liberation Serif", "labelFontWeight": "bold", "labelFontSize": 33, "labelColor": "#4D4D4D", "tickSize": 4, "tickColor": "#333333", "tickWidth": 1.2, "labelPadding": 0, "domain": false, "grid": true, "gridColor": "#EBEBEB", "gridWidth": 1.4, "bandPosition": 0.5}},
  "xOffset": {"field": "jitter", "type": "quantitative", "scale": {"domain": [-0.275, 0.725], "nice": false, "zero": false}}}},
{"transform": [{"filter": {"field": "group", "equal": "Death"}}],
 "mark": {"type": "point", "shape": "circle", "filled": true, "size": 50, "stroke": "#000000", "strokeWidth": 0.9, "opacity": 1},
 "encoding": {"x": {"field": "gene", "type": "nominal", "scale": {"domain": ["CCL5", "MMP9", "S100A12"], "paddingInner": 0, "paddingOuter": 0.1, "round": false}, "axis": null},
  "xOffset": {"field": "jitter", "type": "quantitative", "scale": {"domain": [-0.725, 0.275], "nice": false, "zero": false}}}},
{"data": {"name": "sig_E"},
 "mark": {"type": "text", "font": "Liberation Serif", "fontSize": 21, "baseline": "alphabetic", "align": "center", "dy": 8.5, "fill": "#333333", "opacity": 1},
 "encoding": {"x": {"field": "gene", "type": "nominal", "scale": {"type": "band", "domain": ["CCL5", "MMP9", "S100A12"], "paddingInner": 0, "paddingOuter": 0.1, "round": false}, "axis": null, "bandPosition": 0.5},
  "y": {"field": "level", "type": "quantitative"}, "text": {"field": "sig", "type": "nominal"}, "color": {"value": "#333333"}}}
],
"resolve": {"scale": {"x": "independent", "xOffset": "independent"}}
}
]
},
{"width": 1, "height": 88, "data": {"values": []}, "mark": "point", "encoding": {}},
{"width": 1, "height": 1107, "data": {"values": []}, "mark": "point", "encoding": {}},
{
"width": 364, "height": 364,
"view": {"stroke": "#222222", "strokeWidth": 1.2},
"layer": [
{"data": {"values": [{"line": "chance"}]}, "mark": {"type": "rule", "color": "#BEBEBE", "strokeWidth": 1},
 "encoding": {"x": {"datum": -0.04, "type": "quantitative", "scale": {"domain": [-0.04, 1.04], "nice": false, "zero": false}},
  "y": {"datum": -0.04, "type": "quantitative", "scale": {"domain": [-0.04, 1.04], "nice": false, "zero": false}, "axis": null},
  "x2": {"datum": 1.04}, "y2": {"datum": 1.04}}},
{"data": {"name": "roc"}, "transform": [{"filter": {"field": "model", "equal": "S100A12"}}],
 "mark": {"type": "line", "color": "#7570B3", "strokeWidth": 2},
 "encoding": {
  "x": {"field": "fpr", "type": "quantitative", "scale": {"domain": [-0.04, 1.04], "nice": false, "zero": false}, "axis": {"values": [0, 0.2, 0.4, 0.6, 0.8, 1], "format": ".1f", "title": "1 - Specificity", "domain": false, "grid": false, "tickSize": 9, "tickColor": "#000000", "tickWidth": 1, "labelPadding": 11, "labelFont": "Liberation Sans", "labelFontSize": 15, "labelColor": "#000000", "labelFlush": false, "labelOverlap": false, "titleFont": "Liberation Sans", "titleFontSize": 20.5, "titleFontWeight": "normal", "titleColor": "#000000", "titlePadding": 6}},
  "y": {"field": "tpr", "type": "quantitative", "scale": {"domain": [-0.04, 1.04], "nice": false, "zero": false}, "axis": {"orient": "left", "values": [0, 0.2, 0.4, 0.6, 0.8, 1], "format": ".1f", "title": "Sensitivity", "domain": false, "grid": false, "tickSize": 9, "tickColor": "#000000", "tickWidth": 1, "labelAngle": -90, "labelAlign": "center", "labelBaseline": "bottom", "labelPadding": 8, "labelFont": "Liberation Sans", "labelFontSize": 15, "labelColor": "#000000", "labelFlush": false, "labelOverlap": false, "titleFont": "Liberation Sans", "titleFontSize": 20.5, "titleFontWeight": "normal", "titleColor": "#000000", "titlePadding": 12}},
  "order": {"field": "step", "type": "quantitative"}}},
{"data": {"name": "auc"}, "transform": [{"filter": {"field": "model", "equal": "S100A12"}}],
 "mark": {"type": "text", "align": "left", "baseline": "top", "font": "Liberation Sans", "fontSize": 22, "color": "#7570B3"},
 "encoding": {"x": {"datum": 0.5, "type": "quantitative"},
  "y": {"datum": 0.5, "type": "quantitative", "axis": {"title": "S100A12", "orient": "left", "labels": false, "ticks": false, "domain": false, "grid": false, "titleX": 182, "titleY": -12, "titleAngle": 0, "titleAlign": "center", "titleBaseline": "alphabetic", "titleFont": "Liberation Sans", "titleFontSize": 17, "titleFontWeight": "bold", "titleColor": "#000000"}},
  "text": {"field": "label", "type": "nominal"}}}
],
"resolve": {"axis": {"y": "independent"}}
},
{
"width": 364, "height": 364,
"view": {"stroke": "#222222", "strokeWidth": 1.2},
"layer": [
{"data": {"values": [{"line": "chance"}]}, "mark": {"type": "rule", "color": "#BEBEBE", "strokeWidth": 1},
 "encoding": {"x": {"datum": -0.04, "type": "quantitative", "scale": {"domain": [-0.04, 1.04], "nice": false, "zero": false}},
  "y": {"datum": -0.04, "type": "quantitative", "scale": {"domain": [-0.04, 1.04], "nice": false, "zero": false}, "axis": null},
  "x2": {"datum": 1.04}, "y2": {"datum": 1.04}}},
{"data": {"name": "roc"}, "transform": [{"filter": {"field": "model", "equal": "Lasso Model"}}],
 "mark": {"type": "line", "color": "#E7298A", "strokeWidth": 2},
 "encoding": {
  "x": {"field": "fpr", "type": "quantitative", "scale": {"domain": [-0.04, 1.04], "nice": false, "zero": false}, "axis": {"values": [0, 0.2, 0.4, 0.6, 0.8, 1], "format": ".1f", "title": "1 - Specificity", "domain": false, "grid": false, "tickSize": 9, "tickColor": "#000000", "tickWidth": 1, "labelPadding": 11, "labelFont": "Liberation Sans", "labelFontSize": 15, "labelColor": "#000000", "labelFlush": false, "labelOverlap": false, "titleFont": "Liberation Sans", "titleFontSize": 20.5, "titleFontWeight": "normal", "titleColor": "#000000", "titlePadding": 6}},
  "y": {"field": "tpr", "type": "quantitative", "scale": {"domain": [-0.04, 1.04], "nice": false, "zero": false}, "axis": {"orient": "left", "values": [0, 0.2, 0.4, 0.6, 0.8, 1], "format": ".1f", "title": "Sensitivity", "domain": false, "grid": false, "tickSize": 9, "tickColor": "#000000", "tickWidth": 1, "labelAngle": -90, "labelAlign": "center", "labelBaseline": "bottom", "labelPadding": 8, "labelFont": "Liberation Sans", "labelFontSize": 15, "labelColor": "#000000", "labelFlush": false, "labelOverlap": false, "titleFont": "Liberation Sans", "titleFontSize": 20.5, "titleFontWeight": "normal", "titleColor": "#000000", "titlePadding": 12}},
  "order": {"field": "step", "type": "quantitative"}}},
{"data": {"name": "auc"}, "transform": [{"filter": {"field": "model", "equal": "Lasso Model"}}],
 "mark": {"type": "text", "align": "left", "baseline": "top", "font": "Liberation Sans", "fontSize": 22, "color": "#E7298A"},
 "encoding": {"x": {"datum": 0.5, "type": "quantitative"},
  "y": {"datum": 0.5, "type": "quantitative", "axis": {"title": "Lasso Model", "orient": "left", "labels": false, "ticks": false, "domain": false, "grid": false, "titleX": 182, "titleY": -12, "titleAngle": 0, "titleAlign": "center", "titleBaseline": "alphabetic", "titleFont": "Liberation Sans", "titleFontSize": 17, "titleFontWeight": "bold", "titleColor": "#000000"}},
  "text": {"field": "label", "type": "nominal"}}}
],
"resolve": {"axis": {"y": "independent"}}
},
{
"width": 825, "height": 561,
"view": {"stroke": "#333333", "strokeWidth": 1.3},
"data": {"name": "expr_D"},
"encoding": {
 "y": {"field": "value", "type": "quantitative", "scale": {"domain": [5.41, 15.45], "nice": false, "zero": false},
  "axis": {"title": "Expression", "values": [6.25, 7.5, 8.75, 10, 11.25, 12.5, 13.75, 15], "labelExpr": "datum.value % 2.5 === 0 ? format(datum.value, '.1f') : ''", "tickOpacity": {"condition": {"test": "datum.value % 2.5 === 0", "value": 1}, "value": 0}, "gridWidth": {"condition": {"test": "datum.value % 2.5 === 0", "value": 1.4}, "value": 0.7}, "grid": true, "gridColor": "#EBEBEB", "domain": false, "tickSize": 5, "tickColor": "#333333", "tickWidth": 1.2, "labelPadding": 2.4, "labelFont": "Liberation Serif", "labelFontWeight": "bold", "labelFontSize": 23.5, "labelColor": "#4D4D4D", "labelFlush": false, "labelOverlap": false, "titleFont": "Liberation Serif", "titleFontWeight": "bold", "titleFontSize": 28, "titleColor": "#000000", "titlePadding": 7}},
 "color": {"field": "group", "type": "nominal", "scale": {"domain": ["Control", "ACLF"], "range": ["#1F77B4", "#FF7F0E"]},
  "legend": {"title": "group", "orient": "none", "legendX": 851, "legendY": 238, "symbolType": "square", "symbolSize": 576, "symbolStrokeColor": "#666666", "symbolStrokeWidth": 1, "symbolOpacity": 0.9, "labelFont": "DejaVu Sans", "labelFontSize": 20.5, "labelColor": "#000000", "titleFont": "DejaVu Sans", "titleFontSize": 21.5, "titleFontWeight": "normal", "titleColor": "#000000", "labelOffset": 11, "rowPadding": 1, "titlePadding": 12}}
},
"layer": [
{"transform": [{"filter": {"and": [{"field": "gene", "equal": "CCL5"}, {"field": "group", "equal": "Control"}]}}, {"density": "value", "groupby": ["group"], "bandwidth": 0.1775, "extent": [8.8775, 11.0025], "steps": 120}],
 "mark": {"type": "area", "orient": "horizontal", "fillOpacity": 0.7, "stroke": "#333333", "strokeWidth": 1.3},
 "encoding": {"x": {"field": "density", "type": "quantitative", "stack": "center", "impute": null, "scale": {"domain": [-0.3678, 7.208], "nice": false, "zero": false},
  "axis": {"orient": "top", "title": "D", "labels": false, "ticks": false, "domain": false, "grid": false, "titleX": -158, "titleY": 28, "titleAngle": 0, "titleAlign": "left", "titleBaseline": "alphabetic", "titleFont": "Liberation Sans", "titleFontSize": 46, "titleFontWeight": "bold", "titleColor": "#000000"}}}},
{"transform": [{"filter": {"and": [{"field": "gene", "equal": "CCL5"}, {"field": "group", "equal": "ACLF"}]}}, {"density": "value", "groupby": ["group"], "bandwidth": 0.3727, "extent": [5.858, 10.398], "steps": 120}],
 "mark": {"type": "area", "orient": "horizontal", "fillOpacity": 0.7, "stroke": "#333333", "strokeWidth": 1.3},
 "encoding": {"x": {"field": "density", "type": "quantitative", "stack": "center", "impute": null, "scale": {"domain": [-1.7032, 5.8726], "nice": false, "zero": false}, "axis": null}}},
{"transform": [{"filter": {"and": [{"field": "gene", "equal": "MMP9"}, {"field": "group", "equal": "Control"}]}}, {"density": "value", "groupby": ["group"], "bandwidth": 0.2391, "extent": [7.867, 10.505], "steps": 120}],
 "mark": {"type": "area", "orient": "horizontal", "fillOpacity": 0.7, "stroke": "#333333", "strokeWidth": 1.3},
 "encoding": {"x": {"field": "density", "type": "quantitative", "stack": "center", "impute": null, "scale": {"domain": [-2.8417, 4.7341], "nice": false, "zero": false}, "axis": null}}},
{"transform": [{"filter": {"and": [{"field": "gene", "equal": "MMP9"}, {"field": "group", "equal": "ACLF"}]}}, {"density": "value", "groupby": ["group"], "bandwidth": 0.2176, "extent": [9.365, 13.163], "steps": 120}],
 "mark": {"type": "area", "orient": "horizontal", "fillOpacity": 0.7, "stroke": "#333333", "strokeWidth": 1.3},
 "encoding": {"x": {"field": "density", "type": "quantitative", "stack": "center", "impute": null, "scale": {"domain": [-3.9236, 3.6522], "nice": false, "zero": false}, "axis": null}}},
{"transform": [{"filter": {"and": [{"field": "gene", "equal": "S100A12"}, {"field": "group", "equal": "Control"}]}}, {"density": "value", "groupby": ["group"], "bandwidth": 0.2408, "extent": [9.073, 11.686], "steps": 120}],
 "mark": {"type": "area", "orient": "horizontal", "fillOpacity": 0.7, "stroke": "#333333", "strokeWidth": 1.3},
 "encoding": {"x": {"field": "density", "type": "quantitative", "stack": "center", "impute": null, "scale": {"domain": [-5.1326, 2.4432], "nice": false, "zero": false}, "axis": null}}},
{"transform": [{"filter": {"and": [{"field": "gene", "equal": "S100A12"}, {"field": "group", "equal": "ACLF"}]}}, {"density": "value", "groupby": ["group"], "bandwidth": 0.1433, "extent": [10.715, 12.981], "steps": 120}],
 "mark": {"type": "area", "orient": "horizontal", "fillOpacity": 0.7, "stroke": "#333333", "strokeWidth": 1.3},
 "encoding": {"x": {"field": "density", "type": "quantitative", "stack": "center", "impute": null, "scale": {"domain": [-6.1555, 1.4203], "nice": false, "zero": false}, "axis": null}}},
{"mark": {"type": "boxplot", "extent": 1.5, "size": 13.5, "ticks": false, "box": {"stroke": "#333333", "strokeWidth": 1.2, "fillOpacity": 0.9}, "median": {"color": "#333333", "thickness": 2.5}, "rule": {"color": "#333333", "strokeWidth": 1.2}, "outliers": {"color": "#595959", "size": 40, "filled": true, "opacity": 1}},
 "encoding": {"x": {"field": "gene", "type": "nominal", "scale": {"domain": ["CCL5", "MMP9", "S100A12"], "paddingInner": 0, "paddingOuter": 0.1, "round": false}, "axis": null},
  "xOffset": {"field": "group", "type": "nominal", "scale": {"domain": ["Control", "ACLF"], "paddingInner": 0, "paddingOuter": 0.111}}}},
{"transform": [{"filter": {"field": "group", "equal": "Control"}}],
 "mark": {"type": "point", "shape": "circle", "filled": true, "size": 55, "stroke": "#000000", "strokeWidth": 0.9, "opacity": 1},
 "encoding": {"x": {"field": "gene", "type": "nominal", "scale": {"domain": ["CCL5", "MMP9", "S100A12"], "paddingInner": 0, "paddingOuter": 0.1, "round": false},
   "axis": {"title": null, "labelAngle": 0, "labelFont": "Liberation Serif", "labelFontWeight": "bold", "labelFontSize": 29, "labelColor": "#4D4D4D", "tickSize": 5, "tickColor": "#333333", "tickWidth": 1.2, "labelPadding": 0, "domain": false, "grid": true, "gridColor": "#EBEBEB", "gridWidth": 1.4, "bandPosition": 0.5}},
  "xOffset": {"field": "jitter", "type": "quantitative", "scale": {"domain": [-0.275, 0.725], "nice": false, "zero": false}}}},
{"transform": [{"filter": {"field": "group", "equal": "ACLF"}}],
 "mark": {"type": "point", "shape": "circle", "filled": true, "size": 55, "stroke": "#000000", "strokeWidth": 0.9, "opacity": 1},
 "encoding": {"x": {"field": "gene", "type": "nominal", "scale": {"domain": ["CCL5", "MMP9", "S100A12"], "paddingInner": 0, "paddingOuter": 0.1, "round": false}, "axis": null},
  "xOffset": {"field": "jitter", "type": "quantitative", "scale": {"domain": [-0.725, 0.275], "nice": false, "zero": false}}}},
{"data": {"name": "sig_D"},
 "mark": {"type": "text", "font": "Liberation Serif", "fontSize": 20, "baseline": "alphabetic", "align": "center", "dy": 7, "fill": "#333333", "opacity": 1},
 "encoding": {"x": {"field": "gene", "type": "nominal", "scale": {"type": "band", "domain": ["CCL5", "MMP9", "S100A12"], "paddingInner": 0, "paddingOuter": 0.1, "round": false}, "axis": null, "bandPosition": 0.5},
  "y": {"field": "level", "type": "quantitative"}, "text": {"field": "sig", "type": "nominal"}, "color": {"value": "#333333"}}}
],
"resolve": {"scale": {"x": "independent", "xOffset": "independent"}}
}
]
}
